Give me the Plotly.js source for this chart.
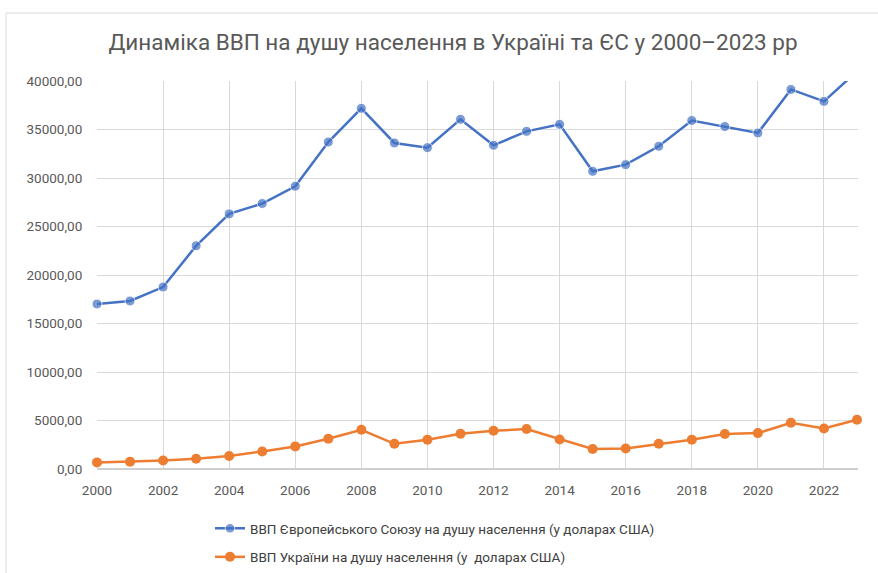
<!DOCTYPE html>
<html>
<head>
<meta charset="utf-8">
<script src="https://cdn.plot.ly/plotly-3.0.1.min.js"></script>
<style>
  html, body { margin: 0; padding: 0; background: #fff; }
  #chart { width: 878px; height: 573px; }
</style>
</head>
<body>
<div id="chart"></div>
<script>
const years = [2000, 2001, 2002, 2003, 2004, 2005, 2006, 2007, 2008, 2009, 2010, 2011,
               2012, 2013, 2014, 2015, 2016, 2017, 2018, 2019, 2020, 2021, 2022, 2023];
const euGdp = [17010, 17320, 18760, 23010, 26300, 27370, 29150, 33710, 37180, 33610, 33130, 36050,
               33370, 34810, 35530, 30690, 31380, 33270, 35930, 35310, 34640, 39130, 37900, 41000];
const uaGdp = [680, 750, 885, 1060, 1340, 1810, 2330, 3120, 4040, 2600, 3015, 3630,
               3940, 4115, 3050, 2060, 2120, 2600, 3015, 3600, 3700, 4760, 4180, 5070];
const euName = "ВВП Європейського Союзу на душу населення (у доларах США)";
const uaName = "ВВП України на душу населення (у  доларах США)";
const titleText = "Динаміка ВВП на душу населення в Україні та ЄС у 2000–2023 рр";
const yMax = 40000;

const FONT = "Roboto, 'Noto Sans', sans-serif";
const W = 878, H = 573;
const mL = 97, mR = 20, mT = 81, mB = 104;
const pw = W - mL - mR, ph = H - mT - mB;
const px = x => (x - mL) / pw;
const py = y => 1 - (y - mT) / ph;

const euSizes = euGdp.map(v => v > yMax ? 0 : 10);

const traces = [
  {
    x: years, y: euGdp, name: euName, type: 'scatter', mode: 'lines+markers',
    legendgroup: 'eu',
    line: { color: '#4472C4', width: 2.5 },
    marker: { color: '#4472C4', size: euSizes },
    cliponaxis: false
  },
  {
    x: years, y: uaGdp, name: uaName, type: 'scatter', mode: 'lines+markers',
    legendgroup: 'ua',
    line: { color: '#ED7D31', width: 2.5 },
    marker: { color: '#ED7D31', size: 10 },
    cliponaxis: false
  }
];

const layout = {
  width: W, height: H,
  margin: { l: mL, r: mR, t: mT, b: mB, pad: 0, autoexpand: false },
  paper_bgcolor: '#ffffff', plot_bgcolor: '#ffffff',
  separators: ', ',
  font: { family: FONT, color: '#595959', size: 13 },
  title: {
    text: titleText,
    font: { family: FONT, size: 22.5, color: '#595959' },
    x: px(453), xanchor: 'center', xref: 'paper',
    y: 1 - 42 / H, yanchor: 'middle'
  },
  xaxis: {
    range: [2000, 2023.03], tick0: 2000, dtick: 2, tickmode: 'linear',
    showgrid: true, gridcolor: '#d9d9d9', gridwidth: 1,
    zeroline: false, showline: false, automargin: false,
    ticks: 'outside', ticklen: 9, tickcolor: 'rgba(0,0,0,0)',
    tickfont: { family: FONT, size: 13.5, color: '#595959' }
  },
  yaxis: {
    range: [0, yMax], tick0: 0, dtick: 5000, tickmode: 'linear',
    tickformat: '.2f',
    showgrid: true, gridcolor: '#d9d9d9', gridwidth: 1,
    zeroline: true, zerolinecolor: '#cfcfcf', zerolinewidth: 1.5, showline: false,
    automargin: false,
    ticks: 'outside', ticklen: 11, tickcolor: 'rgba(0,0,0,0)',
    tickfont: { family: FONT, size: 13.5, color: '#595959' }
  },
  showlegend: true,
  legend: {
    orientation: 'v', xref: 'container', yref: 'container',
    x: 210 / W, xanchor: 'left', y: 1 - 513 / H, yanchor: 'top',
    font: { family: FONT, size: 13.5, color: '#404040' },
    bgcolor: 'rgba(0,0,0,0)', tracegroupgap: 8
  },
  shapes: [
    { type: 'rect', xref: 'paper', yref: 'paper',
      x0: px(6), x1: px(W + 20), y0: py(H + 20), y1: py(13),
      line: { color: '#d9d9d9', width: 1 }, fillcolor: 'rgba(0,0,0,0)', layer: 'below' }
  ]
};

Plotly.newPlot('chart', traces, layout, { displayModeBar: false, staticPlot: true });
</script>
</body>
</html>
